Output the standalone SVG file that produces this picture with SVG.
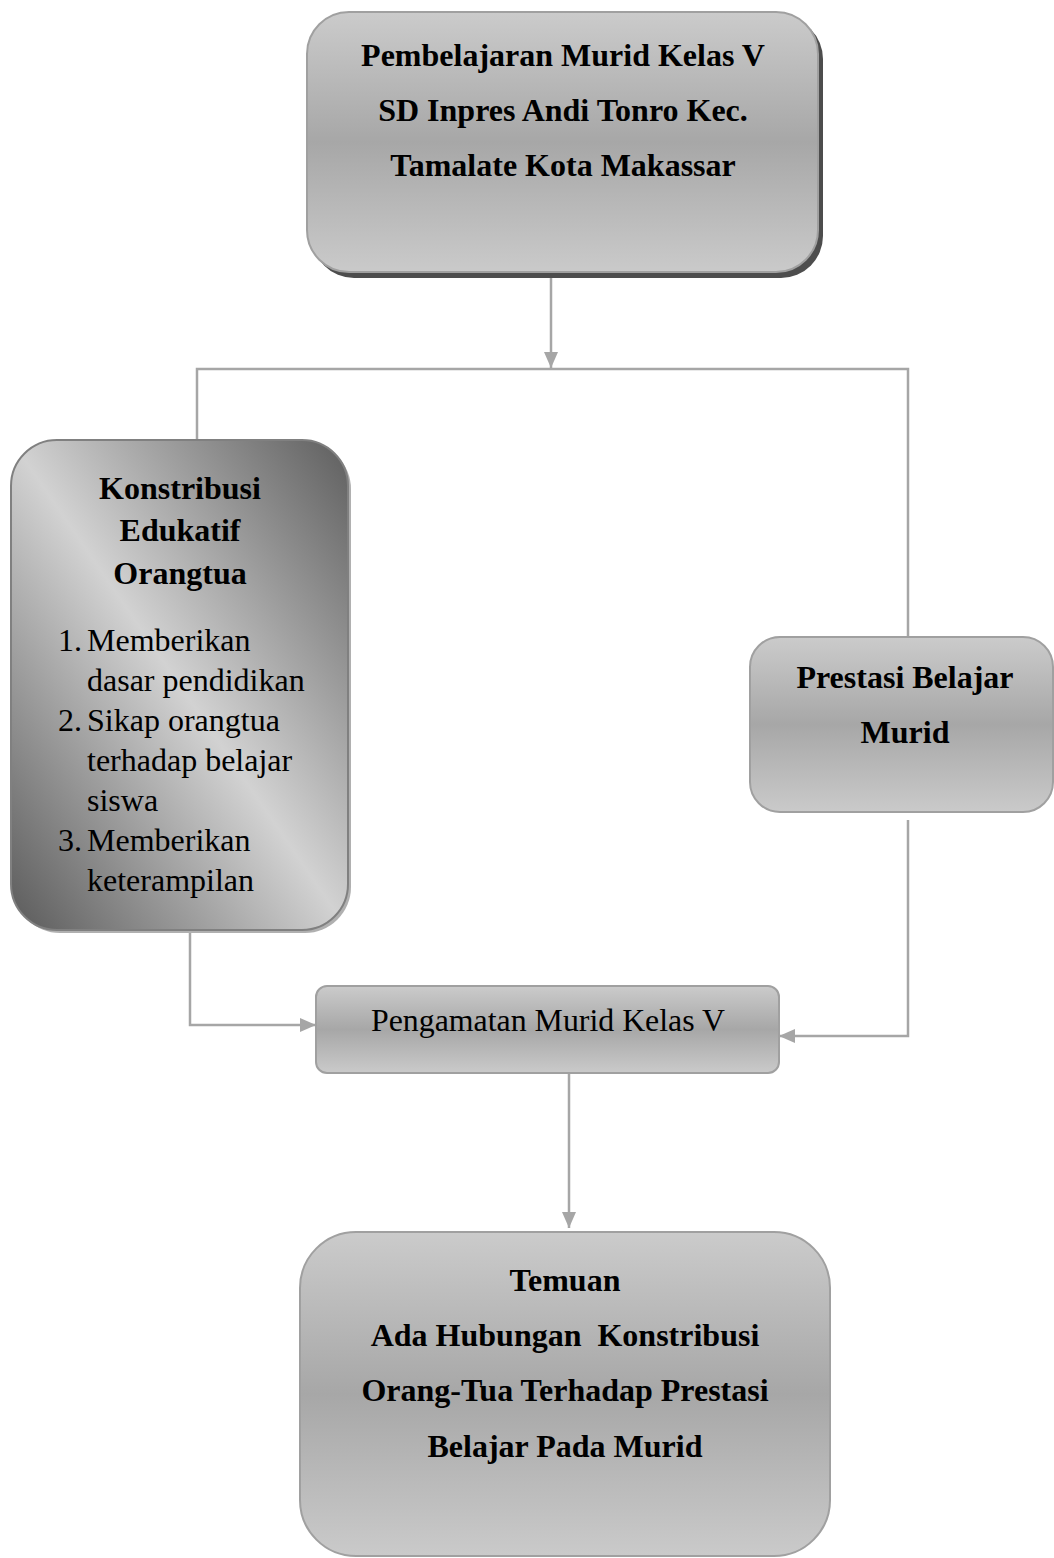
<svg xmlns="http://www.w3.org/2000/svg" width="1054" height="1558" viewBox="0 0 1054 1558">
<defs>
<linearGradient id="gv" x1="0" y1="0" x2="0" y2="1">
<stop offset="0" stop-color="#cbcbcb"/>
<stop offset="0.5" stop-color="#a7a7a7"/>
<stop offset="1" stop-color="#cacaca"/>
</linearGradient>
<linearGradient id="gd" x1="1" y1="0" x2="0" y2="1">
<stop offset="0" stop-color="#5e5e5e"/>
<stop offset="0.5" stop-color="#d2d2d2"/>
<stop offset="1" stop-color="#5a5a5a"/>
</linearGradient>
<marker id="ah" viewBox="0 0 16 14" refX="16" refY="7" markerWidth="16" markerHeight="14" markerUnits="userSpaceOnUse" orient="auto">
<path d="M0,0 L16,7 L0,14 Z" fill="#a6a6a6"/>
</marker>
<style>
.box{fill:url(#gv);stroke:#a0a0a0;stroke-width:2}
.bd{font-family:"Liberation Serif","Times New Roman",serif;font-weight:bold;font-size:32px;fill:#000;text-anchor:middle}
.rg{font-family:"Liberation Serif","Times New Roman",serif;font-size:32px;fill:#000}
.cn{fill:none;stroke:#a6a6a6;stroke-width:2.5}
</style>
</defs>
<g id="connectors">
<path class="cn" d="M551,272 V368" marker-end="url(#ah)"/>
<path class="cn" d="M197,440 V369 H908 V636"/>
<path class="cn" d="M190,930 V1025 H316" marker-end="url(#ah)"/>
<path class="cn" d="M908,820 V1036 H779" marker-end="url(#ah)"/>
<path class="cn" d="M569,1073 V1228" marker-end="url(#ah)"/>
</g>
<g id="node-pembelajaran">
<rect x="312" y="17" width="511" height="261" rx="42" fill="#4d4d4d"/>
<rect class="box" x="307" y="12" width="511" height="260" rx="42"/>
<text class="bd" x="563" y="66">Pembelajaran Murid Kelas V</text>
<text class="bd" x="563" y="121">SD Inpres Andi Tonro Kec.</text>
<text class="bd" x="563" y="176">Tamalate Kota Makassar</text>
</g>
<g id="node-konstribusi">
<rect x="14" y="443" width="337" height="490" rx="46" fill="#b0b0b0"/>
<rect x="11" y="440" width="337" height="490" rx="46" fill="url(#gd)" stroke="#808080" stroke-width="2"/>
<text class="bd" x="180" y="499">Konstribusi</text>
<text class="bd" x="180" y="541">Edukatif</text>
<text class="bd" x="180" y="584">Orangtua</text>
<text class="rg" x="58" y="651">1.</text>
<text class="rg" x="87" y="651">Memberikan</text>
<text class="rg" x="87" y="691">dasar pendidikan</text>
<text class="rg" x="58" y="731">2.</text>
<text class="rg" x="87" y="731">Sikap orangtua</text>
<text class="rg" x="87" y="771">terhadap belajar</text>
<text class="rg" x="87" y="811">siswa</text>
<text class="rg" x="58" y="851">3.</text>
<text class="rg" x="87" y="851">Memberikan</text>
<text class="rg" x="87" y="891">keterampilan</text>
</g>
<g id="node-prestasi">
<rect class="box" x="750" y="637" width="303" height="175" rx="30"/>
<text class="bd" x="905" y="688">Prestasi Belajar</text>
<text class="bd" x="905" y="743">Murid</text>
</g>
<g id="node-pengamatan">
<rect class="box" x="316" y="986" width="463" height="87" rx="11"/>
<text class="rg" x="548" y="1031" text-anchor="middle" font-size="32" textLength="354" lengthAdjust="spacingAndGlyphs">Pengamatan Murid Kelas V</text>
</g>
<g id="node-temuan">
<rect class="box" x="300" y="1232" width="530" height="324" rx="56"/>
<text class="bd" x="565" y="1291">Temuan</text>
<text class="bd" x="565" y="1346" xml:space="preserve">Ada Hubungan  Konstribusi</text>
<text class="bd" x="565" y="1401">Orang-Tua Terhadap Prestasi</text>
<text class="bd" x="565" y="1457">Belajar Pada Murid</text>
</g>
</svg>
